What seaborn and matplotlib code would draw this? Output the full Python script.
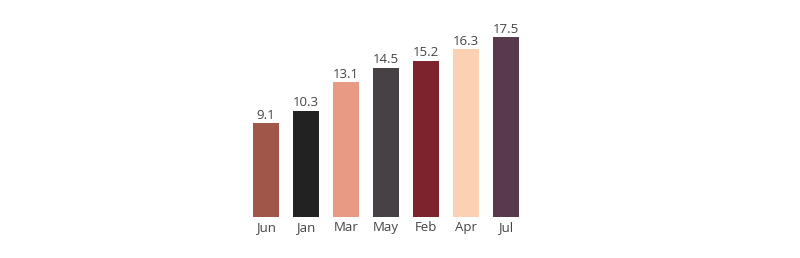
import matplotlib
matplotlib.use("Agg")
import matplotlib.pyplot as plt
import seaborn as sns
import pandas as pd

months = ["Jun", "Jan", "Mar", "May", "Feb", "Apr", "Jul"]
values = [9.1, 10.3, 13.1, 14.5, 15.2, 16.3, 17.5]
colors = ["#a0574a", "#222222", "#e99a85", "#474044", "#7c232d", "#fcd0b3", "#583a4d"]

df = pd.DataFrame({"month": months, "value": values})

sns.set_style("white")
plt.rcParams["font.family"] = ["Open Sans", "DejaVu Sans"]

fig = plt.figure(figsize=(8, 2.58), dpi=100)
ax = fig.add_axes([0.3075, 0.160, 0.350, 0.724])
sns.barplot(data=df, x="month", y="value", hue="month", palette=colors,
            width=0.65, legend=False, ax=ax, saturation=1, linewidth=0)

for i, v in enumerate(values):
    ax.text(i, v + 0.15, f"{v:.1f}", ha="center", va="bottom", fontsize=9.5, color="#444444")

ax.set_xlim(-0.5, 6.5)
ax.set_ylim(0, 18.2)
ax.set_xlabel("")
ax.set_ylabel("")
ax.set_yticks([])
ax.tick_params(axis="x", length=0, labelsize=9.5, colors="#444444", pad=3)
for s in ax.spines.values():
    s.set_visible(False)

fig.savefig("out.png", dpi=100, facecolor="white")
